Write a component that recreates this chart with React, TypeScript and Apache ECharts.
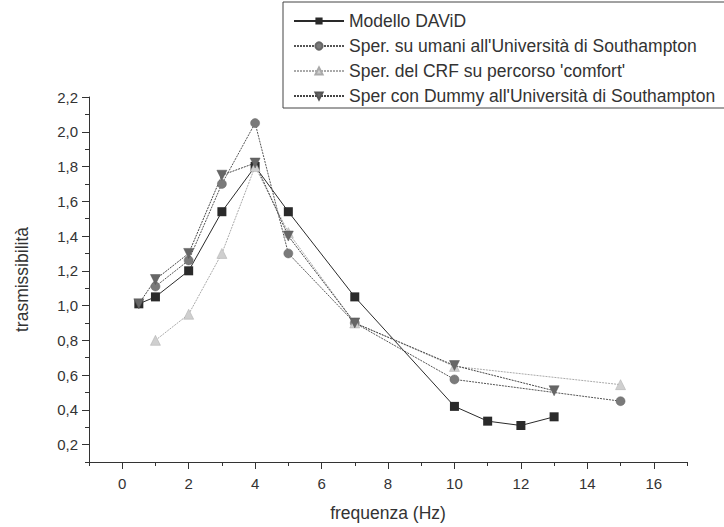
import React, { useEffect, useRef } from "react";
import * as echarts from "echarts";

const seriesNames = [
  "Modello DAViD",
  "Sper. su umani all'Università di Southampton",
  "Sper. del CRF su percorso 'comfort'",
  "Sper con Dummy all'Università di Southampton",
];

const davidX = [0.5, 1, 2, 3, 4, 5, 7, 10, 11, 12, 13];
const davidY = [1.01, 1.05, 1.2, 1.54, 1.8, 1.54, 1.05, 0.42, 0.335, 0.31, 0.36];

const umaniX = [1, 2, 3, 4, 5, 7, 10, 15];
const umaniY = [1.11, 1.26, 1.7, 2.05, 1.3, 0.9, 0.575, 0.45];

const crfX = [1, 2, 3, 4, 5, 7, 10, 15];
const crfY = [0.8, 0.95, 1.3, 1.8, 1.42, 0.9, 0.65, 0.545];

const dummyX = [0.5, 1, 2, 3, 4, 5, 7, 10, 13];
const dummyY = [1.01, 1.15, 1.3, 1.75, 1.82, 1.4, 0.9, 0.655, 0.51];

const xMajorTicks = [0, 2, 4, 6, 8, 10, 12, 14, 16];
const xMinorTicks = [-1, 1, 3, 5, 7, 9, 11, 13, 15, 17];
const yMajorTicks = [0.2, 0.4, 0.6, 0.8, 1.0, 1.2, 1.4, 1.6, 1.8, 2.0, 2.2];
const yMinorTicks = [0.1, 0.3, 0.5, 0.7, 0.9, 1.1, 1.3, 1.5, 1.7, 1.9, 2.1];

const pairs = (xs: number[], ys: number[]) => xs.map((x, i) => [x, ys[i]]);

const FONT = "Liberation Sans, Arial, sans-serif";

export default function App() {
  const ref = useRef<HTMLDivElement>(null);
  useEffect(() => {
    if (!ref.current) return;
    const chart = echarts.init(ref.current, null, { renderer: "svg" });
    const axisColor = "#333";
    const labelStyle = { color: "#333", fontSize: 15, fontFamily: FONT };
    chart.setOption({
      animation: false,
      backgroundColor: "#fff",
      textStyle: { fontFamily: FONT },
      grid: { left: 89, right: 37, top: 97, bottom: 61.5, containLabel: false },
      legend: {
        orient: "vertical",
        left: 283,
        top: 2,
        padding: [10, 10, 3, 10],
        borderColor: "#444",
        borderWidth: 1,
        itemWidth: 50,
        itemHeight: 9,
        itemGap: 7,
        textStyle: { color: "#333", fontSize: 17.5, fontFamily: FONT, lineHeight: 18 },
        data: seriesNames,
      },
      xAxis: [
        {
          type: "value",
          min: -1,
          max: 17,
          position: "bottom",
          name: "frequenza (Hz)",
          nameLocation: "middle",
          nameGap: 42,
          nameTextStyle: { color: "#333", fontSize: 17.5, fontFamily: FONT },
          axisLine: { show: true, onZero: false, lineStyle: { color: axisColor, width: 1 } },
          axisTick: { show: true, length: 7, customValues: xMajorTicks, lineStyle: { color: axisColor } },
          axisLabel: { ...labelStyle, margin: 14, customValues: xMajorTicks, formatter: (v: number) => String(v) },
          splitLine: { show: false },
        },
        {
          type: "value",
          min: -1,
          max: 17,
          position: "bottom",
          axisLine: { show: false, onZero: false },
          axisTick: { show: true, length: 4, customValues: xMinorTicks, lineStyle: { color: axisColor } },
          axisLabel: { show: false },
          splitLine: { show: false },
        },
      ],
      yAxis: [
        {
          type: "value",
          min: 0.1,
          max: 2.2,
          position: "left",
          name: "trasmissibilità",
          nameLocation: "middle",
          nameGap: 58,
          nameRotate: 90,
          nameTextStyle: { color: "#333", fontSize: 17.5, fontFamily: FONT },
          axisLine: { show: true, onZero: false, lineStyle: { color: axisColor, width: 1 } },
          axisTick: { show: true, length: 7, customValues: yMajorTicks, lineStyle: { color: axisColor } },
          axisLabel: {
            ...labelStyle,
            margin: 11,
            customValues: yMajorTicks,
            formatter: (v: number) => v.toFixed(1).replace(".", ","),
          },
          splitLine: { show: false },
        },
        {
          type: "value",
          min: 0.1,
          max: 2.2,
          position: "left",
          axisLine: { show: false, onZero: false },
          axisTick: { show: true, length: 4, customValues: yMinorTicks, lineStyle: { color: axisColor } },
          axisLabel: { show: false },
          splitLine: { show: false },
        },
      ],
      series: [
        {
          name: seriesNames[0],
          type: "line",
          data: pairs(davidX, davidY),
          symbol: "rect",
          symbolSize: 9,
          itemStyle: { color: "#2a2a2a", borderColor: "#2a2a2a", borderWidth: 0 },
          lineStyle: { color: "#2a2a2a", width: 1, type: "solid" },
        },
        {
          name: seriesNames[1],
          type: "line",
          data: pairs(umaniX, umaniY),
          symbol: "circle",
          symbolSize: 9,
          itemStyle: { color: "#7a7a7a", borderColor: "#666", borderWidth: 0.5 },
          lineStyle: { color: "#555", width: 1, type: [2, 1] },
        },
        {
          name: seriesNames[2],
          type: "line",
          data: pairs(crfX, crfY),
          symbol: "triangle",
          symbolSize: 10,
          itemStyle: { color: "#cfcfcf", borderColor: "#aaa", borderWidth: 0.5 },
          lineStyle: { color: "#aaa", width: 1, type: [2, 1] },
        },
        {
          name: seriesNames[3],
          type: "line",
          data: pairs(dummyX, dummyY),
          symbol: "triangle",
          symbolRotate: 180,
          symbolSize: 10,
          itemStyle: { color: "#666", borderColor: "#555", borderWidth: 0.5 },
          lineStyle: { color: "#444", width: 1, type: [2, 1] },
        },
      ],
    });
    return () => chart.dispose();
  }, []);
  return (
    <div
      ref={ref}
      style={{ position: "fixed", left: 0, top: 0, width: 724, height: 527, background: "#fff" }}
    />
  );
}
